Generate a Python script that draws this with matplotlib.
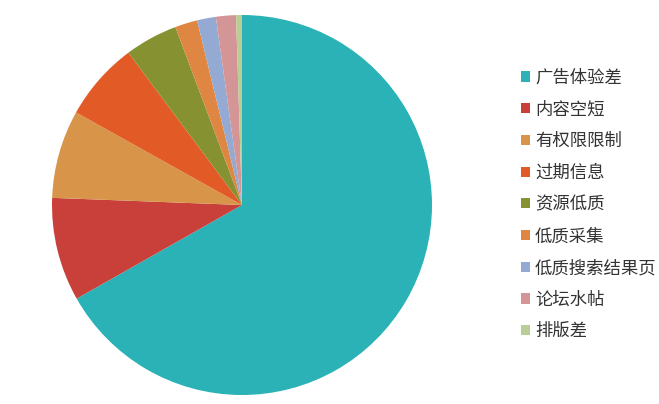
import matplotlib
matplotlib.use("Agg")
from matplotlib import pyplot as plt

plt.rcParams['font.family'] = ['Noto Sans CJK SC', 'DejaVu Sans']

# data
labels = ['广告体验差', '内容空短', '有权限限制', '过期信息', '资源低质',
          '低质采集', '低质搜索结果页', '论坛水帖', '排版差']
shares = [66.8, 8.8, 7.5, 6.7, 4.5, 1.9, 1.6, 1.7, 0.5]
colors = ['#2AB2B7', '#C9403A', '#D8954A', '#E25B26', '#869232',
          '#DF8742', '#94AAD3', '#D49596', '#B9CD95']

W, H = 659, 404
fig = plt.figure(figsize=(W / 100, H / 100), dpi=100)

# pie centre ~ (242, 205) px, radius ~190 px
cx, cy, r = 242, 205, 190
ax = fig.add_axes([(cx - r) / W, (H - cy - r) / H, 2 * r / W, 2 * r / H])
wedges, _ = ax.pie(shares, colors=colors, startangle=90, counterclock=False,
                   radius=1.0, wedgeprops=dict(linewidth=0))
ax.set_xlim(-1, 1)
ax.set_ylim(-1, 1)
ax.set_aspect('equal')
ax.axis('off')

fig.legend(wedges, labels, loc='upper left',
           bbox_to_anchor=(512 / W, 1 - 60 / H), frameon=False,
           fontsize=12.5, handlelength=0.52, handleheight=0.52,
           handletextpad=0.3, labelspacing=0.79, borderpad=0,
           labelcolor='#333333')

fig.savefig('out.png', dpi=100)
